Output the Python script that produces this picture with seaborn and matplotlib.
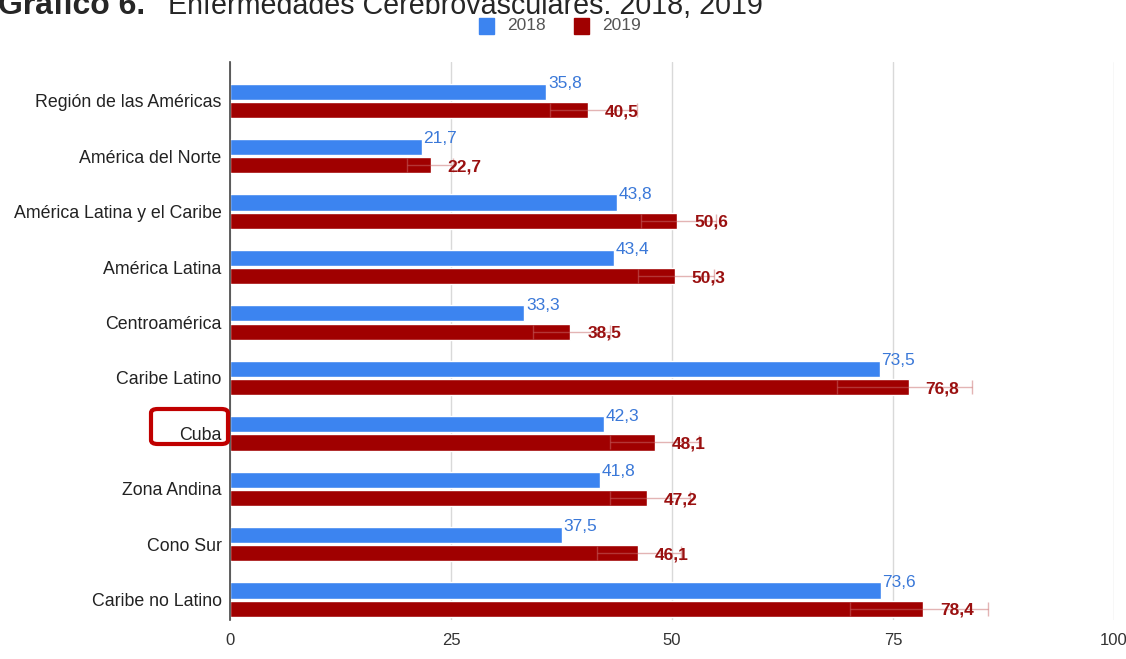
import pandas as pd
import matplotlib.pyplot as plt
import seaborn as sns
from matplotlib.patches import FancyBboxPatch

# datos
regiones = ['Región de las Américas', 'América del Norte', 'América Latina y el Caribe',
            'América Latina', 'Centroamérica', 'Caribe Latino', 'Cuba', 'Zona Andina',
            'Cono Sur', 'Caribe no Latino']
tasa_2018 = [35.8, 21.7, 43.8, 43.4, 33.3, 73.5, 42.3, 41.8, 37.5, 73.6]
tasa_2019 = [40.5, 22.7, 50.6, 50.3, 38.5, 76.8, 48.1, 47.2, 46.1, 78.4]
# intervalos 2019 (aprox.)
inf_2019 = [36.2, 20.0, 46.5, 46.2, 34.3, 68.7, 43.0, 43.0, 41.5, 70.1]
sup_2019 = [46.0, 25.2, 55.0, 54.8, 43.0, 83.9, 53.0, 52.0, 51.0, 85.7]
anios = ['2018', '2019']
xticks = [0, 25, 50, 75, 100]

colores = {'2018': '#3c84f0', '2019': '#a00000'}

df = pd.DataFrame({
    'Región': regiones * 2,
    'Tasa': tasa_2018 + tasa_2019,
    'Año': ['2018'] * len(regiones) + ['2019'] * len(regiones),
})

sns.set_style('white')
fuente = ['Liberation Sans', 'DejaVu Sans']

fig = plt.figure(figsize=(11.26, 6.59), dpi=100)
ax = fig.add_axes([0.2043, 0.059, 0.785, 0.847])

sns.barplot(data=df, x='Tasa', y='Región', hue='Año', palette=colores, orient='h',
            width=0.66, gap=0.12, saturation=1, ax=ax, legend=False, zorder=2)

# error bars for 2019 series
bars19 = ax.containers[1]
ys = [b.get_y() + b.get_height() / 2 for b in bars19]
for y, v, lo, hi in zip(ys, tasa_2019, inf_2019, sup_2019):
    ax.errorbar(v, y, xerr=[[v - lo], [hi - v]], fmt='none', ecolor='#c86a6a',
                elinewidth=1, capsize=5, alpha=0.5, zorder=3)

# value labels
bars18 = ax.containers[0]
for b, v in zip(bars18, tasa_2018):
    ax.text(b.get_width() + 0.2, b.get_y() + 0.0, f'{v:.1f}'.replace('.', ','),
            color='#3a78d8', fontsize=12.5, ha='left', va='center', family=fuente, zorder=4)
for b, v in zip(bars19, tasa_2019):
    ax.text(b.get_width() + 1.9, b.get_y() + b.get_height() / 2 + 0.03,
            f'{v:.1f}'.replace('.', ','), color='#9a1010', fontsize=12.5,
            fontweight='bold', ha='left', va='center', family=fuente, zorder=4)

ax.set_xlim(0, 100)
ax.set_ylim(9.37, -0.70)
ax.set_xticks(xticks)
ax.set_xticklabels([str(t) for t in xticks], family=fuente, fontsize=12, color='#333333')
ax.set_yticks(range(len(regiones)))
ax.set_yticklabels(regiones, family=fuente, fontsize=12.8, color='#222222')
ax.tick_params(axis='both', length=0)
ax.tick_params(axis='x', pad=9)
ax.tick_params(axis='y', pad=6)
ax.set_xlabel('')
ax.set_ylabel('')
ax.grid(axis='x', color='#d9d9d9', linewidth=1, zorder=0)
for s in ['top', 'right', 'bottom']:
    ax.spines[s].set_visible(False)
ax.spines['left'].set_color('#444444')
ax.spines['left'].set_linewidth(1.2)
ax.spines['left'].set_zorder(5)

# titulo (cortado arriba como en la imagen original)
fig.text(-2 / 1126, 1.0 - 14 / 659, 'Gráfico 6.', fontsize=23, fontweight='bold',
         family=fuente, ha='left', va='baseline')
fig.text(168 / 1126, 1.0 - 14 / 659, 'Enfermedades Cerebrovasculares. 2018, 2019',
         fontsize=20.6, family=fuente, ha='left', va='baseline')

# leyenda
for x0, anio in [(479, '2018'), (574, '2019')]:
    fig.patches.append(plt.Rectangle((x0 / 1126, 1 - 34 / 659), 15 / 1126, 16 / 659,
                                     transform=fig.transFigure, color=colores[anio]))
    fig.text((x0 + 28) / 1126, 1 - 26 / 659, anio, fontsize=12.5, color='#555555',
             family=fuente, ha='left', va='center')

# recuadro rojo alrededor de Cuba
fig.patches.append(FancyBboxPatch((151 / 1126, 1 - 444 / 659), 77 / 1126, 35 / 659,
                                  boxstyle='round,pad=0,rounding_size=0.006',
                                  transform=fig.transFigure, fill=False,
                                  edgecolor='#c00000', linewidth=3))

fig.savefig('out.png', dpi=100)
